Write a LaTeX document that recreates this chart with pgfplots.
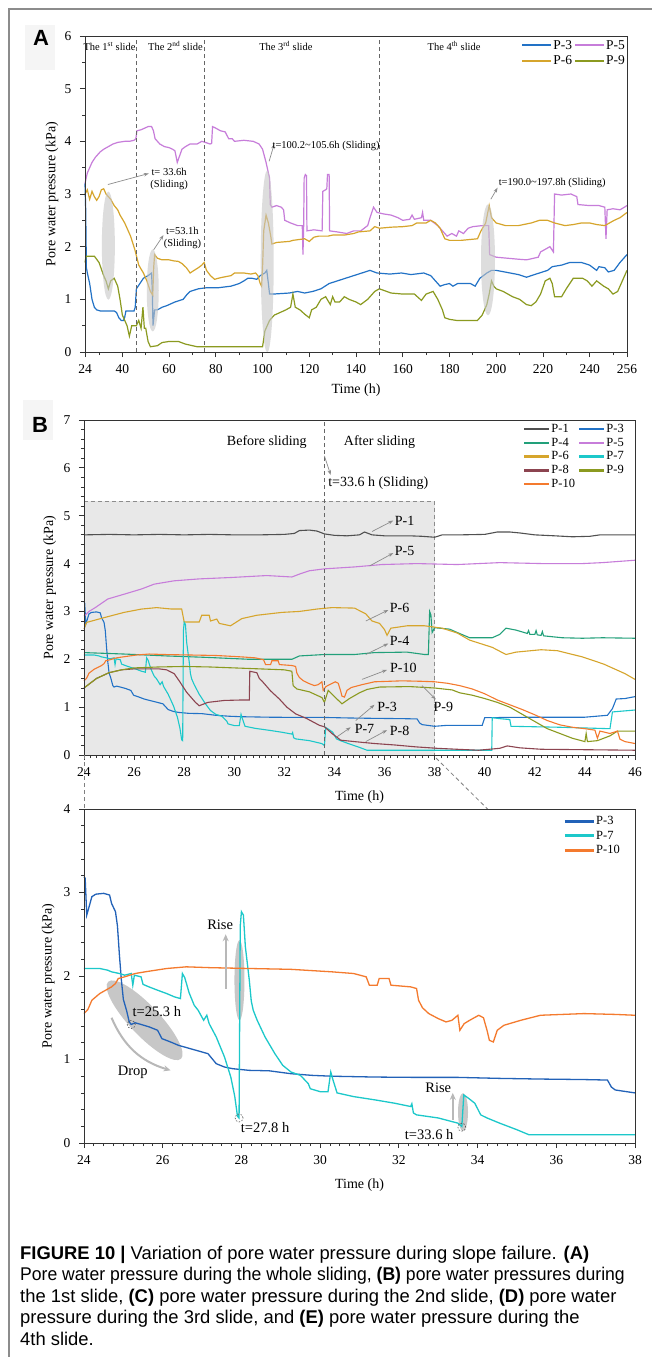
\documentclass[border=0pt]{standalone}
\usepackage{fontspec}
\setmainfont{Liberation Serif}
\setsansfont{Liberation Sans}
\usepackage{pgfplots}
\pgfplotsset{compat=1.18}
\usetikzlibrary{arrows.meta,shapes.geometric}
\definecolor{cPa}{HTML}{505050}
\definecolor{cPc}{HTML}{2272C6}
\definecolor{cPcc}{HTML}{2262B8}
\definecolor{cPd}{HTML}{22A07A}
\definecolor{cPe}{HTML}{C77DDA}
\definecolor{cPf}{HTML}{D6A52C}
\definecolor{cPg}{HTML}{1CC8CA}
\definecolor{cPh}{HTML}{8C4450}
\definecolor{cPi}{HTML}{8B9A20}
\definecolor{cPj}{HTML}{F47A2E}
\definecolor{arr}{HTML}{8C8C8C}
\newcommand{\fs}[2]{\fontsize{#1}{#2}\selectfont}
\tikzset{
  arrw/.style={arr, line width=0.7pt, -{Stealth[length=5pt,width=3.5pt]}},
  bigarr/.style={black!28, line width=2pt, -{Stealth[length=7pt,width=6pt]}},
}
\pgfplotsset{
  base/.style={
    scale only axis, clip=false, axis on top,
    axis line style={black!80, line width=0.9pt},
    tick style={black!80, line width=0.8pt},
    major tick length=5pt, minor tick length=3pt,
    tick align=outside, tick pos=left,
    ticklabel style={font=\fs{13.5}{15}},
    /pgf/number format/assume math mode=true,
    xticklabel style={yshift=-4pt},
    yticklabel style={xshift=-5pt},
    label style={font=\fs{14}{16}},
    xlabel style={at={(axis description cs:0.5,0)}, anchor=center},
    legend cell align=left,
  },
}
\begin{document}
\begin{tikzpicture}
\useasboundingbox (0pt,0pt) rectangle (652pt,-1357pt);
\fill[white] (0pt,0pt) rectangle (652pt,-1357pt);
\draw[black!45, line width=1.2pt] (9pt,-1357pt) -- (9pt,-9pt) -- (652pt,-9pt);
\fill[black!4] (25pt,-25pt) rectangle (55pt,-70pt);
\node[font=\sffamily\bfseries\fs{22}{24}, inner sep=0] at (41pt,-37.5pt) {A};
\fill[black!4] (23pt,-400pt) rectangle (53pt,-440pt);
\node[font=\sffamily\bfseries\fs{22}{24}, inner sep=0] at (40pt,-425pt) {B};

% ================= PANEL A =================
\begin{axis}[base, at={(85pt,-352pt)}, anchor=south west, width=542pt, height=316pt,
  xmin=24, xmax=256, ymin=0, ymax=6,
  xtick={24,40,60,80,100,120,140,160,180,200,220,240,256},
  minor xtick={30,50,...,250},
  ytick={0,1,...,6}, minor ytick={0.5,1.5,...,5.5},
  xlabel={Time (h)}, ylabel={Pore water pressure (kPa)},
  xlabel style={yshift=-38pt}, ylabel style={at={(axis description cs:-0.061,0.5)}, anchor=center},
  legend columns=2,
  legend style={at={(axis description cs:1,1)}, anchor=north east, xshift=-1pt, yshift=-3pt,
    draw=none, fill=none, font=\fs{13.5}{14}, inner sep=0pt, nodes={inner sep=1pt}, row sep=3pt,
    /tikz/every even column/.append style={column sep=1pt}},
  legend image code/.code={\draw[#1,line width=2pt] (0pt,0pt) -- (29pt,0pt);},
]
\addplot[cPc, line width=1.2pt] coordinates {(24,3.2)(24.3,2.7)(24.6,1.6)(25,1.5)(26,1.3)(27,1.0)(28,0.85)(29,0.8)(30.5,0.78)(36.5,0.78)(37.5,0.75)(38.5,0.65)(39.5,0.6)(40.5,0.6)(41,0.66)(41.5,0.78)(45,0.78)(45.5,0.85)(46,1.2)(47.5,1.3)(49,1.4)(51,1.45)(52.5,1.5)(52.8,1.2)(53.1,0.5)(53.8,0.8)(55,0.8)(57,0.85)(59,0.88)(62.5,0.95)(66,1.0)(67.8,1.1)(69,1.15)(72.5,1.2)(76,1.22)(81,1.22)(86.5,1.25)(90,1.3)(92,1.35)(93.7,1.4)(95.5,1.4)(97.5,1.38)(99,1.45)(101,1.5)(101.8,1.55)(102.5,1.3)(103,1.1)(104.5,1.1)(111.5,1.12)(115,1.15)(118,1.12)(121.5,1.15)(125,1.2)(128.5,1.3)(132,1.35)(135.5,1.4)(139,1.45)(142.5,1.5)(146,1.55)(149,1.5)(154.5,1.48)(159.5,1.5)(163.5,1.47)(169,1.5)(172,1.45)(174,1.35)(176,1.25)(178,1.28)(180,1.3)(181.5,1.25)(183.5,1.3)(186,1.3)(189,1.3)(191,1.25)(193,1.4)(196,1.5)(198,1.55)(200,1.55)(206,1.5)(209.5,1.47)(213,1.42)(215,1.45)(218.5,1.5)(222,1.55)(224,1.62)(228,1.65)(231.5,1.7)(236.5,1.7)(240,1.65)(243,1.55)(244,1.62)(246.5,1.6)(248,1.52)(250.5,1.55)(253,1.7)(256,1.85)};
\addlegendentry{P-3}
\addplot[cPe, line width=1.2pt] coordinates {(24,3.2)(25,3.4)(27,3.6)(28.5,3.7)(30.5,3.8)(32,3.85)(34,3.9)(36,3.95)(38,3.98)(41,4.0)(43,4.0)(45,4.02)(45.8,4.05)(46.2,4.2)(48,4.22)(50,4.26)(51,4.28)(52.5,4.28)(53.3,4.2)(54,4.05)(56,3.95)(58,3.9)(60,3.88)(61.5,3.85)(62.5,3.82)(63.5,3.6)(64.3,3.7)(65.5,3.85)(67,3.9)(69,3.95)(72,3.95)(74,4.0)(75.5,3.98)(77.5,3.95)(78.2,3.96)(78.6,4.28)(80,4.25)(82,4.2)(84,4.18)(85.5,4.05)(87,4.05)(88,4.0)(92,4.02)(96,4.0)(98.5,3.95)(100,3.85)(101.5,3.6)(102.5,3.4)(103,3.3)(103.3,2.8)(104,2.75)(106,2.78)(108,2.75)(109,2.7)(109.5,2.5)(112,2.45)(115,2.4)(117,2.4)(117.3,1.85)(117.6,2.4)(117.8,3.3)(118.3,3.37)(118.8,3.35)(119,2.3)(122,2.32)(125.5,2.3)(125.8,3.05)(127,3.08)(127.5,3.1)(127.8,3.37)(128.5,3.37)(128.7,2.3)(132,2.28)(136,2.25)(139,2.3)(142,2.3)(145,2.4)(146,2.55)(147.5,2.75)(149,2.65)(152,2.62)(155,2.6)(158,2.55)(160,2.5)(163,2.52)(164,2.6)(165,2.52)(168,2.55)(168.5,2.65)(169,2.5)(172,2.5)(175,2.4)(177,2.3)(179,2.2)(181,2.25)(183,2.2)(184,2.3)(186,2.25)(188,2.35)(190,2.38)(194,2.4)(196.8,2.4)(197.2,1.85)(200,1.8)(205,1.78)(210,1.76)(213,1.75)(216,1.78)(218,1.8)(219,1.9)(221,1.95)(223,2.0)(224.5,1.9)(225,3.0)(228,2.98)(232,3.0)(234.5,2.95)(235,2.8)(240,2.78)(244,2.78)(246.5,2.75)(247,2.15)(247.5,2.7)(250,2.72)(253,2.7)(256,2.78)};
\addlegendentry{P-5}
\addplot[cPf, line width=1.2pt] coordinates {(24,3.0)(25,3.08)(26,2.9)(27,3.05)(28,2.95)(29,2.88)(30,2.95)(31,3.08)(32,3.1)(33,3.0)(34,2.95)(35,2.9)(36.5,2.78)(38,2.7)(39,2.6)(41,2.45)(42.5,2.3)(43.5,2.2)(45.3,1.95)(47,1.65)(49,1.5)(50.5,1.35)(52,1.15)(53,1.08)(53.4,1.6)(53.8,1.85)(55,1.78)(57,1.75)(60,1.75)(62,1.73)(64,1.72)(65.5,1.68)(67.4,1.6)(69,1.5)(70.7,1.55)(72.5,1.6)(74,1.65)(75,1.7)(76,1.55)(77.7,1.45)(79.5,1.38)(81,1.4)(83,1.42)(86.5,1.45)(88,1.5)(92,1.5)(95,1.48)(97,1.5)(98,1.45)(99,1.3)(99.6,1.25)(100,1.6)(100.5,2.3)(101.5,2.6)(102.5,2.45)(103.5,2.2)(104,2.05)(106,2.08)(111.5,2.1)(113,2.12)(118,2.15)(120,2.1)(122,2.18)(124,2.2)(128,2.2)(130,2.22)(135,2.22)(139,2.25)(141,2.28)(146,2.3)(148,2.38)(150,2.35)(155,2.37)(160,2.38)(164,2.4)(166,2.45)(170,2.45)(172,2.5)(174,2.45)(176,2.35)(178,2.15)(180,2.12)(185,2.12)(192,2.15)(193.5,2.3)(195.5,2.45)(197,2.78)(198,2.55)(200,2.45)(204,2.4)(209.5,2.4)(215,2.45)(218.5,2.5)(222,2.5)(225,2.45)(229.5,2.4)(233,2.42)(236.5,2.45)(240,2.45)(243,2.42)(246.5,2.4)(250.5,2.5)(253,2.55)(256,2.65)};
\addlegendentry{P-6}
\addplot[cPi, line width=1.2pt] coordinates {(24,1.7)(24.5,1.82)(28,1.82)(30,1.7)(32,1.45)(33,1.35)(34,1.2)(35,1.35)(36.5,1.4)(38,1.25)(39,1.0)(40,0.7)(41,0.6)(42,0.5)(43,0.3)(44,0.5)(46,0.5)(47,0.6)(48,0.45)(48.8,0.85)(49.4,0.45)(50,0.45)(51,0.2)(52,0.1)(55,0.12)(57,0.18)(60,0.2)(64,0.2)(67,0.15)(70,0.12)(72,0.1)(100,0.1)(101,0.4)(102,0.5)(103,0.6)(105,0.7)(110,0.8)(112,0.85)(113,1.1)(114,0.85)(116,0.8)(118,0.72)(120,0.65)(121,0.8)(123,0.85)(125,1.0)(127,1.05)(129,0.9)(130,1.05)(131,0.95)(133,0.95)(135,1.05)(137,1.0)(140,0.95)(142,0.9)(145,1.0)(148,1.15)(150,1.2)(155,1.12)(160,1.1)(165,1.1)(168,0.98)(170,1.1)(173,1.15)(175,1.0)(177,0.8)(178,0.65)(180,0.62)(183,0.6)(186,0.6)(190,0.6)(192,0.6)(194,0.7)(196,0.9)(197,1.1)(198,1.35)(199,1.25)(200,1.2)(203,1.15)(205,1.1)(207,1.05)(210,1.0)(213,0.9)(215,0.88)(217,0.95)(219,1.1)(221,1.35)(223,1.4)(224,1.3)(225,1.05)(228,1.05)(230,1.2)(233,1.4)(237,1.4)(239,1.35)(241,1.25)(243,1.35)(246,1.25)(248,1.2)(250,1.1)(252,1.15)(254,1.35)(256,1.55)};
\addlegendentry{P-9}
% sliding ellipses
\node[ellipse, fill=black!22, fill opacity=0.6, inner sep=0, minimum width=13pt, minimum height=108pt] at (axis cs:34,2.02) {};
\node[ellipse, fill=black!22, fill opacity=0.6, inner sep=0, minimum width=12pt, minimum height=82pt] at (axis cs:53,1.17) {};
\node[ellipse, fill=black!22, fill opacity=0.6, inner sep=0, minimum width=13pt, minimum height=182pt] at (axis cs:102,1.72) {};
\node[ellipse, fill=black!22, fill opacity=0.6, inner sep=0, minimum width=14pt, minimum height=111pt] at (axis cs:196.5,1.75) {};
% stage boundaries
\draw[black!60, line width=0.9pt, dash pattern=on 4pt off 3pt] (axis cs:46,0) -- (axis cs:46,6);
\draw[black!60, line width=0.9pt, dash pattern=on 4pt off 3pt] (axis cs:75,0) -- (axis cs:75,6);
\draw[black!60, line width=0.9pt, dash pattern=on 4pt off 3pt] (axis cs:150,0) -- (axis cs:150,6);
\node[font=\fs{10.5}{12}] at (axis cs:34.5,5.81) {The 1\textsuperscript{st} slide};
\node[font=\fs{10.5}{12}] at (axis cs:62.7,5.81) {The 2\textsuperscript{nd} slide};
\node[font=\fs{10.5}{12}] at (axis cs:110,5.81) {The 3\textsuperscript{rd} slide};
\node[font=\fs{10.5}{12}] at (axis cs:182,5.81) {The 4\textsuperscript{th} slide};
% annotations
\draw[arrw] (axis cs:33.8,3.18) -- (axis cs:51.3,3.39);
\node[font=\fs{10.5}{12}, align=center] at (axis cs:60,3.28) {t= 33.6h\\(Sliding)};
\draw[arrw] (axis cs:53.4,1.94) -- (axis cs:57.6,2.22);
\node[font=\fs{10.5}{12}, align=center] at (axis cs:65.7,2.16) {t=53.1h\\(Sliding)};
\draw[arrw] (axis cs:102.8,3.62) -- (axis cs:105,3.95);
\node[font=\fs{10.5}{12}] at (axis cs:127.2,3.91) {t=100.2\textasciitilde105.6h (Sliding)};
\draw[arrw] (axis cs:197.7,2.9) -- (axis cs:200.6,3.12);
\node[font=\fs{10.5}{12}] at (axis cs:224,3.21) {t=190.0\textasciitilde197.8h (Sliding)};
\end{axis}

% ================= PANEL B =================
\begin{axis}[base, at={(84pt,-755pt)}, anchor=south west, width=551pt, height=335pt,
  xmin=24, xmax=46, ymin=0, ymax=7,
  xtick={24,26,...,46}, minor x tick num=7,
  ytick={0,1,...,7}, minor y tick num=4,
  xlabel={Time (h)}, ylabel={Pore water pressure (kPa)},
  xlabel style={yshift=-42pt}, ylabel style={at={(axis description cs:-0.062,0.5)}, anchor=center},
  legend columns=2,
  legend style={at={(axis description cs:1,1)}, anchor=north east, xshift=-10pt, yshift=-3pt,
    draw=none, fill=none, font=\fs{12.5}{13}, inner sep=0pt, nodes={inner sep=1pt}, row sep=2pt,
    /tikz/every even column/.append style={column sep=2pt}},
  legend image code/.code={\draw[#1,line width=2.4pt] (0pt,0pt) -- (25pt,0pt);},
]
\fill[black!9] (axis cs:24,0) rectangle (axis cs:38,5.3);
\draw[black!45, line width=0.9pt, dash pattern=on 4pt off 3pt] (axis cs:24,5.3) -- (axis cs:38,5.3) -- (axis cs:38,0);
\addplot[cPa, line width=1.1pt] coordinates {(24,4.6)(25,4.61)(26,4.6)(27,4.61)(28,4.6)(29,4.61)(30,4.6)(31,4.6)(32,4.61)(32.4,4.63)(32.6,4.69)(33,4.7)(33.3,4.68)(33.6,4.62)(34,4.59)(34.5,4.58)(35,4.6)(35.2,4.66)(35.5,4.6)(36,4.58)(37,4.58)(37.5,4.57)(38,4.55)(38.3,4.6)(39,4.6)(40,4.61)(40.5,4.66)(41,4.66)(41.4,4.64)(42,4.6)(42.8,4.58)(43.5,4.56)(44.2,4.57)(44.6,4.6)(46,4.6)};
\addlegendentry{P-1}
\addplot[cPc, line width=1.1pt] coordinates {(24,3.19)(24.03,3.17)(24.07,2.73)(24.13,2.83)(24.2,2.95)(24.3,2.98)(24.5,2.99)(24.65,2.97)(24.7,2.87)(24.8,2.77)(24.85,2.6)(24.9,2.25)(24.95,1.95)(25.0,1.72)(25.08,1.59)(25.15,1.45)(25.2,1.42)(25.3,1.44)(25.45,1.42)(25.66,1.39)(25.87,1.35)(25.98,1.25)(26.2,1.21)(26.4,1.17)(26.7,1.13)(27.15,1.07)(27.36,0.95)(27.57,0.91)(27.78,0.89)(28.2,0.87)(28.7,0.865)(29.26,0.83)(29.8,0.81)(30.3,0.8)(31.4,0.79)(32.4,0.786)(33.5,0.786)(34.56,0.774)(35.6,0.766)(36.7,0.76)(37.3,0.754)(37.4,0.67)(37.5,0.635)(38,0.6)(38.5,0.62)(39.9,0.62)(40,0.78)(42,0.79)(44,0.79)(44.9,0.83)(45.1,0.97)(45.25,1.17)(45.6,1.18)(46,1.22)};
\addlegendentry{P-3}
\addplot[cPd, line width=1.1pt] coordinates {(24,2.14)(25.6,2.11)(27.3,2.07)(28.9,2.04)(30.6,2.0)(32.3,2.0)(32.6,2.07)(33.6,2.1)(34.8,2.1)(35.6,2.14)(36.9,2.15)(37.6,2.1)(37.75,2.1)(37.8,3.0)(37.85,2.93)(37.9,2.56)(38,2.66)(38.6,2.63)(38.9,2.56)(39.4,2.45)(40.3,2.45)(40.6,2.52)(40.85,2.65)(41.25,2.61)(41.7,2.54)(41.75,2.6)(41.8,2.52)(42,2.52)(42.05,2.6)(42.1,2.51)(42.25,2.5)(42.3,2.58)(42.35,2.49)(43.1,2.45)(43.9,2.44)(44.7,2.45)(46,2.44)};
\addlegendentry{P-4}
\addplot[cPe, line width=1.1pt] coordinates {(24,2.9)(24.2,3.0)(24.45,3.08)(24.95,3.26)(25.6,3.36)(26.3,3.47)(26.8,3.57)(27.6,3.64)(28.6,3.68)(29.9,3.71)(31.3,3.75)(32.3,3.72)(32.6,3.78)(33,3.85)(33.6,3.89)(34.8,3.93)(35.9,3.98)(37.3,4.0)(38.9,3.98)(40.6,4.02)(42.3,4.0)(43.9,4.0)(44.7,4.02)(46,4.07)};
\addlegendentry{P-5}
\addplot[cPf, line width=1.1pt] coordinates {(24,2.63)(24.1,2.77)(24.8,2.87)(25.6,2.98)(26.3,3.05)(26.9,3.08)(27.5,3.05)(27.9,3.05)(28.0,2.78)(28.6,2.78)(28.7,2.92)(29.0,2.92)(29.05,2.8)(29.3,2.84)(29.4,2.75)(29.85,2.7)(30.3,2.85)(30.9,2.92)(31.9,2.98)(32.6,3.0)(33.3,3.05)(33.9,3.08)(34.8,3.07)(35.25,2.95)(35.5,2.8)(35.8,2.75)(36,2.62)(36.1,2.5)(36.25,2.65)(36.9,2.7)(37.6,2.7)(38.3,2.65)(38.9,2.55)(39.4,2.4)(40.3,2.25)(40.85,2.1)(41.25,2.15)(42.25,2.2)(42.9,2.18)(43.9,2.05)(44.75,1.9)(45.6,1.7)(46,1.58)};
\addlegendentry{P-6}
\addplot[cPg, line width=1.1pt] coordinates {(24,2.09)(24.4,2.09)(24.6,2.07)(24.7,2.05)(24.9,2.03)(25.03,2.01)(25.2,2.03)(25.24,1.89)(25.28,2.01)(25.45,1.99)(25.5,1.9)(25.65,1.87)(25.87,1.83)(26.1,1.79)(26.3,1.75)(26.45,1.73)(26.5,2.03)(26.56,1.98)(26.67,1.8)(26.8,1.65)(26.9,1.59)(27.04,1.47)(27.12,1.53)(27.18,1.43)(27.36,1.27)(27.57,1.03)(27.73,0.79)(27.83,0.56)(27.9,0.32)(27.94,0.3)(27.97,2.6)(28.0,2.77)(28.05,2.73)(28.1,2.35)(28.2,1.95)(28.25,1.7)(28.3,1.59)(28.4,1.47)(28.6,1.27)(28.85,1.07)(29.05,0.93)(29.26,0.85)(29.5,0.81)(29.7,0.71)(29.75,0.65)(30,0.615)(30.2,0.615)(30.27,0.85)(30.33,0.75)(30.43,0.6)(30.85,0.556)(31.4,0.516)(31.9,0.476)(32.3,0.437)(32.33,0.47)(32.37,0.36)(32.45,0.337)(33,0.3)(33.5,0.238)(33.6,0.198)(33.65,0.575)(33.77,0.536)(33.93,0.476)(34.08,0.337)(34.24,0.3)(34.56,0.238)(35,0.159)(35.3,0.1)(38,0.1)(40.28,0.1)(40.3,0.78)(40.6,0.76)(41.0,0.74)(41.05,0.6)(43,0.58)(45,0.55)(45.1,0.9)(46,0.94)};
\addlegendentry{P-7}
\addplot[cPh, line width=1.1pt] coordinates {(24,1.4)(24.5,1.6)(25,1.72)(25.5,1.78)(26,1.8)(27,1.8)(27.3,1.78)(27.6,1.7)(27.8,1.55)(28.1,1.31)(28.45,1.1)(28.6,1.03)(28.95,1.1)(29.6,1.14)(30.3,1.15)(30.6,1.15)(30.62,1.75)(30.9,1.72)(31.0,1.6)(31.1,1.55)(31.45,1.34)(31.8,1.17)(32.1,1.0)(32.45,0.86)(32.9,0.76)(33.4,0.62)(33.6,0.59)(33.9,0.45)(34.25,0.31)(34.8,0.28)(35.6,0.24)(36.4,0.21)(37.25,0.17)(38.1,0.14)(38.9,0.12)(39.75,0.1)(40.6,0.14)(40.9,0.19)(41.4,0.15)(42.25,0.12)(46,0.1)};
\addlegendentry{P-8}
\addplot[cPi, line width=1.1pt] coordinates {(24,1.4)(24.5,1.6)(25,1.72)(25.5,1.78)(26,1.82)(27,1.84)(28,1.85)(29,1.84)(30,1.82)(31,1.8)(32,1.78)(32.3,1.75)(32.35,1.45)(32.5,1.38)(33,1.32)(33.5,1.2)(33.6,1.1)(33.75,1.35)(34,1.22)(34.3,1.07)(34.6,1.18)(35,1.3)(35.3,1.37)(35.8,1.42)(37,1.43)(38,1.4)(38.7,1.36)(39,1.3)(39.5,1.25)(40,1.18)(40.5,1.1)(41,1.0)(41.5,0.85)(42,0.7)(42.5,0.55)(43,0.45)(43.5,0.35)(44,0.28)(44.05,0.45)(44.1,0.28)(44.5,0.3)(45,0.4)(45.3,0.5)(46,0.5)};
\addlegendentry{P-9}
\addplot[cPj, line width=1.1pt] coordinates {(24,1.55)(24.1,1.6)(24.2,1.71)(24.4,1.79)(24.7,1.87)(24.8,1.91)(24.87,1.97)(25.03,1.99)(25.3,2.03)(25.55,2.05)(26.1,2.09)(26.6,2.11)(27.2,2.1)(28.2,2.09)(29.26,2.08)(30.3,2.05)(30.85,2.03)(31.17,1.99)(31.25,1.89)(31.45,1.89)(31.5,1.97)(31.75,1.97)(31.8,1.89)(32.3,1.87)(32.45,1.85)(32.5,1.71)(32.6,1.62)(32.76,1.55)(33,1.49)(33.2,1.45)(33.35,1.47)(33.5,1.53)(33.55,1.35)(33.66,1.43)(33.8,1.47)(34.03,1.53)(34.15,1.5)(34.24,1.35)(34.3,1.23)(34.4,1.21)(34.5,1.35)(34.67,1.41)(35.1,1.47)(35.6,1.53)(36.7,1.55)(37.5,1.54)(38,1.53)(38.5,1.5)(39,1.45)(39.5,1.38)(40,1.28)(40.5,1.15)(41,1.05)(41.5,0.95)(42,0.84)(42.5,0.72)(43,0.63)(43.5,0.58)(44,0.55)(44.4,0.52)(44.5,0.35)(44.6,0.5)(45,0.45)(45.3,0.5)(45.4,0.33)(45.6,0.28)(46,0.24)};
\addlegendentry{P-10}
\draw[black!60, line width=0.9pt, dash pattern=on 4pt off 3pt] (axis cs:33.6,0) -- (axis cs:33.6,7);
\node[font=\fs{14}{16}] at (axis cs:31.3,6.54) {Before sliding};
\node[font=\fs{14}{16}] at (axis cs:35.8,6.54) {After sliding};
\draw[arrw] (axis cs:33.6,6.25) -- (axis cs:33.85,5.85);
\node[font=\fs{14}{16}] at (axis cs:35.75,5.68) {t=33.6 h (Sliding)};
\draw[arrw] (axis cs:35.5,4.67) -- (axis cs:36.35,4.9);
\node[font=\fs{14}{16}] at (axis cs:36.8,4.9) {P-1};
\draw[arrw] (axis cs:35.4,3.95) -- (axis cs:36.35,4.22);
\node[font=\fs{14}{16}] at (axis cs:36.8,4.27) {P-5};
\draw[arrw] (axis cs:35.25,2.8) -- (axis cs:36.15,3.03);
\node[font=\fs{14}{16}] at (axis cs:36.6,3.08) {P-6};
\draw[arrw] (axis cs:35.25,2.1) -- (axis cs:36.15,2.33);
\node[font=\fs{14}{16}] at (axis cs:36.6,2.38) {P-4};
\draw[arrw] (axis cs:35.1,1.58) -- (axis cs:36.1,1.78);
\node[font=\fs{14}{16}] at (axis cs:36.75,1.83) {P-10};
\draw[arrw] (axis cs:37.5,1.45) -- (axis cs:38.05,1.16);
\node[font=\fs{14}{16}] at (axis cs:38.35,1.0) {P-9};
\draw[arrw] (axis cs:34.85,0.72) -- (axis cs:35.6,1.05);
\node[font=\fs{14}{16}] at (axis cs:36.1,1.0) {P-3};
\draw[arrw] (axis cs:34.1,0.38) -- (axis cs:34.65,0.58);
\node[font=\fs{14}{16}] at (axis cs:35.2,0.55) {P-7};
\draw[arrw] (axis cs:35.25,0.28) -- (axis cs:36.1,0.52);
\node[font=\fs{14}{16}] at (axis cs:36.6,0.5) {P-8};
\end{axis}

% connection lines
\draw[black!50, line width=0.8pt, dash pattern=on 4pt off 3pt] (84pt,-755pt) -- (84pt,-809pt);
\draw[black!50, line width=0.8pt, dash pattern=on 4pt off 3pt] (436pt,-758pt) -- (487.5pt,-809pt);

% ================= PANEL C =================
\begin{axis}[base, at={(84pt,-1143pt)}, anchor=south west, width=551pt, height=334pt,
  xmin=24, xmax=38, ymin=0, ymax=4,
  xtick={24,26,...,38}, minor x tick num=7,
  ytick={0,1,...,4}, minor y tick num=4,
  xlabel={Time (h)}, ylabel={Pore water pressure (kPa)},
  xlabel style={yshift=-42pt}, ylabel style={at={(axis description cs:-0.065,0.5)}, anchor=center},
  legend style={at={(axis description cs:1,1)}, anchor=north east, xshift=-14pt, yshift=-6pt,
    draw=none, fill=none, font=\fs{12.5}{13}, inner sep=0pt, nodes={inner sep=1pt}, row sep=3pt},
  legend image code/.code={\draw[#1,line width=2.8pt] (0pt,0pt) -- (29pt,0pt);},
]
\node[ellipse, fill=black!22, inner sep=0, minimum width=106pt, minimum height=30pt, rotate=-46.6] at (axis cs:25.54,1.47) {};
\node[ellipse, fill=black!22, inner sep=0, minimum width=10pt, minimum height=80pt] at (axis cs:27.95,1.95) {};
\node[ellipse, fill=black!22, inner sep=0, minimum width=10pt, minimum height=38pt] at (axis cs:33.63,0.37) {};
\addplot[cPcc, line width=1.3pt] coordinates {(24,3.19)(24.03,3.17)(24.07,2.73)(24.13,2.83)(24.2,2.95)(24.3,2.98)(24.5,2.99)(24.65,2.97)(24.7,2.87)(24.8,2.77)(24.85,2.6)(24.9,2.25)(24.95,1.95)(25.0,1.72)(25.08,1.59)(25.15,1.45)(25.2,1.42)(25.3,1.44)(25.45,1.42)(25.66,1.39)(25.87,1.35)(25.98,1.25)(26.2,1.21)(26.4,1.17)(26.7,1.13)(27.15,1.07)(27.36,0.95)(27.57,0.91)(27.78,0.89)(28.2,0.87)(28.7,0.865)(29.26,0.83)(29.8,0.81)(30.3,0.8)(31.4,0.79)(32.4,0.786)(33.5,0.786)(34.56,0.774)(35.6,0.766)(36.7,0.76)(37.3,0.754)(37.4,0.67)(37.5,0.635)(38,0.6)};
\addlegendentry{P-3}
\addplot[cPg, line width=1.3pt] coordinates {(24,2.09)(24.4,2.09)(24.6,2.07)(24.7,2.05)(24.9,2.03)(25.03,2.01)(25.2,2.03)(25.24,1.89)(25.28,2.01)(25.45,1.99)(25.5,1.9)(25.65,1.87)(25.87,1.83)(26.1,1.79)(26.3,1.75)(26.45,1.73)(26.5,2.03)(26.56,1.98)(26.67,1.8)(26.8,1.65)(26.9,1.59)(27.04,1.47)(27.12,1.53)(27.18,1.43)(27.36,1.27)(27.57,1.03)(27.73,0.79)(27.83,0.56)(27.9,0.32)(27.94,0.3)(27.97,2.6)(28.0,2.77)(28.05,2.73)(28.1,2.35)(28.2,1.95)(28.25,1.7)(28.3,1.59)(28.4,1.47)(28.6,1.27)(28.85,1.07)(29.05,0.93)(29.26,0.85)(29.5,0.81)(29.7,0.71)(29.75,0.65)(30,0.615)(30.2,0.615)(30.27,0.85)(30.33,0.75)(30.43,0.6)(30.85,0.556)(31.4,0.516)(31.9,0.476)(32.3,0.437)(32.33,0.47)(32.37,0.36)(32.45,0.337)(33,0.3)(33.5,0.238)(33.6,0.198)(33.65,0.575)(33.77,0.536)(33.93,0.476)(34.08,0.337)(34.24,0.3)(34.56,0.238)(35,0.159)(35.3,0.1)(38,0.1)};
\addlegendentry{P-7}
\addplot[cPj, line width=1.3pt] coordinates {(24,1.55)(24.1,1.6)(24.2,1.71)(24.4,1.79)(24.7,1.87)(24.8,1.91)(24.87,1.97)(25.03,1.99)(25.3,2.03)(25.55,2.05)(26.1,2.09)(26.6,2.11)(27.2,2.1)(28.2,2.09)(29.26,2.08)(30.3,2.05)(30.85,2.03)(31.17,1.99)(31.25,1.89)(31.45,1.89)(31.5,1.97)(31.75,1.97)(31.8,1.89)(32.3,1.87)(32.45,1.85)(32.5,1.71)(32.6,1.62)(32.76,1.55)(33,1.49)(33.2,1.45)(33.35,1.47)(33.5,1.53)(33.55,1.35)(33.66,1.43)(33.8,1.47)(34.03,1.53)(34.15,1.5)(34.24,1.35)(34.3,1.23)(34.4,1.21)(34.5,1.35)(34.67,1.41)(35.1,1.47)(35.6,1.53)(36.7,1.55)(37.5,1.54)(38,1.53)};
\addlegendentry{P-10}
\draw[black!70, line width=0.6pt, dash pattern=on 1.5pt off 1.5pt] (axis cs:25.2,1.42) circle[radius=4pt];
\draw[black!70, line width=0.6pt, dash pattern=on 1.5pt off 1.5pt] (axis cs:27.94,0.3) circle[radius=4pt];
\draw[black!70, line width=0.6pt, dash pattern=on 1.5pt off 1.5pt] (axis cs:33.6,0.19) circle[radius=4pt];
\node[font=\fs{14.5}{16}] at (axis cs:25.85,1.57) {t=25.3 h};
\draw[bigarr] (axis cs:24.7,1.5) to[bend right=25] (axis cs:26.2,0.87);
\node[font=\fs{14.5}{16}] at (axis cs:25.24,0.85) {Drop};
\draw[bigarr] (axis cs:27.6,1.85) -- (axis cs:27.6,2.5);
\node[font=\fs{14.5}{16}] at (axis cs:27.46,2.61) {Rise};
\node[font=\fs{14.5}{16}] at (axis cs:28.6,0.18) {t=27.8 h};
\draw[bigarr] (axis cs:33.37,0.28) -- (axis cs:33.37,0.6);
\node[font=\fs{14.5}{16}] at (axis cs:33.0,0.66) {Rise};
\node[font=\fs{14.5}{16}] at (axis cs:32.77,0.1) {t=33.6 h};
\end{axis}

% ================= CAPTION =================
\node[anchor=base west, inner sep=0, font=\sffamily\fs{18.4}{20}] at (20pt,-1259pt) {\textbf{FIGURE 10 |} Variation of pore water pressure during slope failure. \textbf{(A)}};
\node[anchor=base west, inner sep=0, font=\sffamily\fs{18.4}{20}] at (20pt,-1280.5pt) {\scalebox{0.955}[1]{Pore water pressure during the whole sliding, \textbf{(B)} pore water pressures during}};
\node[anchor=base west, inner sep=0, font=\sffamily\fs{18.4}{20}] at (20pt,-1302pt) {the 1st slide, \textbf{(C)} pore water pressure during the 2nd slide, \textbf{(D)} pore water};
\node[anchor=base west, inner sep=0, font=\sffamily\fs{18.4}{20}] at (20pt,-1323.5pt) {pressure during the 3rd slide, and \textbf{(E)} pore water pressure during the};
\node[anchor=base west, inner sep=0, font=\sffamily\fs{18.4}{20}] at (20pt,-1345pt) {4th slide.};
\end{tikzpicture}
\end{document}
